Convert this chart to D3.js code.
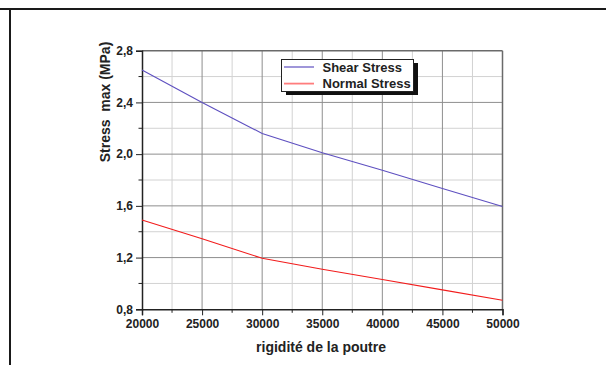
<!DOCTYPE html>
<html>
<head>
<meta charset="utf-8">
<script src="https://cdn.jsdelivr.net/npm/d3@7"></script>
<style>
  body { margin: 0; background: #fff; }
  svg { display: block; font-family: "Liberation Sans", Arial, sans-serif; }
</style>
</head>
<body>
<div id="chart"></div>
<script>
const rigidity = [20000, 25000, 30000, 35000, 40000, 45000, 50000]
const shearStress = [2.65, 2.40, 2.16, 2.01, 1.875, 1.735, 1.595]
const normalStress = [1.49, 1.345, 1.195, 1.11, 1.03, 0.95, 0.87]
const xTicks = [20000, 25000, 30000, 35000, 40000, 45000, 50000]
const yTicks = [0.8, 1.2, 1.6, 2.0, 2.4, 2.8]
const seriesNames = ["Shear Stress", "Normal Stress"]

const width = 606, height = 365
const plotL = 142, plotR = 502.5, plotT = 50.7, plotB = 309.3

const svg = d3.select("#chart").append("svg")
  .attr("width", width)
  .attr("height", height)

// page frame
svg.append("line").attr("x1", 0).attr("x2", width).attr("y1", 9).attr("y2", 9)
  .attr("stroke", "#1a1a1a").attr("stroke-width", 2)
svg.append("line").attr("x1", 10).attr("x2", 10).attr("y1", 8).attr("y2", height)
  .attr("stroke", "#1a1a1a").attr("stroke-width", 2)

const x = d3.scaleLinear().domain([20000, 50000]).range([plotL, plotR])
const y = d3.scaleLinear().domain([0.8, 2.8]).range([plotB, plotT])

const minorX = d3.range(22500, 50000, 5000)
const minorY = [1.0, 1.4, 1.8, 2.2, 2.6]

// grid
const grid = svg.append("g")
grid.append("g").selectAll("line")
  .data(minorX)
  .join("line")
  .attr("x1", d => x(d)).attr("x2", d => x(d))
  .attr("y1", plotT).attr("y2", plotB)
  .attr("stroke", "#d2d2d2").attr("stroke-width", 1)
grid.append("g").selectAll("line")
  .data(minorY)
  .join("line")
  .attr("y1", d => y(d)).attr("y2", d => y(d))
  .attr("x1", plotL).attr("x2", plotR)
  .attr("stroke", "#d2d2d2").attr("stroke-width", 1)
grid.append("g").selectAll("line")
  .data(xTicks.slice(1, -1))
  .join("line")
  .attr("x1", d => x(d)).attr("x2", d => x(d))
  .attr("y1", plotT).attr("y2", plotB)
  .attr("stroke", "#8e8e8e").attr("stroke-width", 1)
grid.append("g").selectAll("line")
  .data(yTicks.slice(1, -1))
  .join("line")
  .attr("y1", d => y(d)).attr("y2", d => y(d))
  .attr("x1", plotL).attr("x2", plotR)
  .attr("stroke", "#8e8e8e").attr("stroke-width", 1)

// top and right box edges
svg.append("line").attr("x1", plotL).attr("x2", plotR).attr("y1", plotT).attr("y2", plotT)
  .attr("stroke", "#6a6a6a").attr("stroke-width", 1.5)
svg.append("line").attr("x1", plotR).attr("x2", plotR).attr("y1", plotT).attr("y2", plotB)
  .attr("stroke", "#6a6a6a").attr("stroke-width", 1.5)

// axes
const xAxis = svg.append("g")
  .attr("transform", `translate(0,${plotB})`)
  .call(d3.axisBottom(x).tickValues(xTicks).tickSize(6).tickPadding(4).tickFormat(d3.format("d")))
xAxis.append("g").selectAll("line")
  .data(minorX)
  .join("line")
  .attr("x1", d => x(d)).attr("x2", d => x(d))
  .attr("y1", 0).attr("y2", 3.5)
  .attr("stroke", "#222")

const yAxis = svg.append("g")
  .attr("transform", `translate(${plotL},0)`)
  .call(d3.axisLeft(y).tickValues(yTicks).tickSize(6).tickPadding(3)
    .tickFormat(d => d3.format(".1f")(d).replace(".", ",")))
yAxis.append("g").selectAll("line")
  .data(minorY)
  .join("line")
  .attr("y1", d => y(d)).attr("y2", d => y(d))
  .attr("x1", 0).attr("x2", -3.5)
  .attr("stroke", "#222")

for (const ax of [xAxis, yAxis]) {
  ax.select(".domain").attr("stroke", "#222").attr("stroke-width", 1.5)
  ax.selectAll(".tick line").attr("stroke", "#222")
  ax.selectAll(".tick text")
    .attr("fill", "#222")
    .attr("font-size", 12)
    .attr("font-weight", "bold")
    .attr("font-family", "Liberation Sans, Arial, sans-serif")
}

// lines
const line = (vals) => d3.line()
  .x((d, i) => x(rigidity[i]))
  .y(d => y(d))(vals)

svg.append("path")
  .attr("d", line(shearStress))
  .attr("fill", "none")
  .attr("stroke", "#5e50c0")
  .attr("stroke-width", 1.1)

svg.append("path")
  .attr("d", line(normalStress))
  .attr("fill", "none")
  .attr("stroke", "#f21c1c")
  .attr("stroke-width", 1.1)

// legend
const lg = svg.append("g")
lg.append("rect").attr("x", 286).attr("y", 63).attr("width", 132).attr("height", 32).attr("fill", "#111")
lg.append("rect").attr("x", 281.5).attr("y", 59.5).attr("width", 132).attr("height", 32)
  .attr("fill", "#fff").attr("stroke", "#222").attr("stroke-width", 1)
const legendColors = ["#5e50c0", "#ff7d7d"]
seriesNames.forEach((name, i) => {
  const ly = 67 + i * 16.6
  lg.append("line").attr("x1", 284).attr("x2", 314).attr("y1", ly).attr("y2", ly)
    .attr("stroke", legendColors[i]).attr("stroke-width", i === 0 ? 1.2 : 1.8)
  lg.append("text").attr("x", 322.5).attr("y", ly + 4.5)
    .attr("font-size", 13).attr("font-weight", "bold").attr("fill", "#222")
    .text(name)
})

// axis titles
svg.append("text")
  .attr("x", 321).attr("y", 352)
  .attr("text-anchor", "middle")
  .attr("font-size", 14).attr("font-weight", "bold").attr("fill", "#222")
  .text("rigidité de la poutre")

svg.append("text")
  .attr("transform", "translate(110,102) rotate(-90)")
  .attr("text-anchor", "middle")
  .attr("font-size", 14).attr("font-weight", "bold").attr("fill", "#222")
  .style("white-space", "pre")
  .text("Stress  max (MPa)")
</script>
</body>
</html>
